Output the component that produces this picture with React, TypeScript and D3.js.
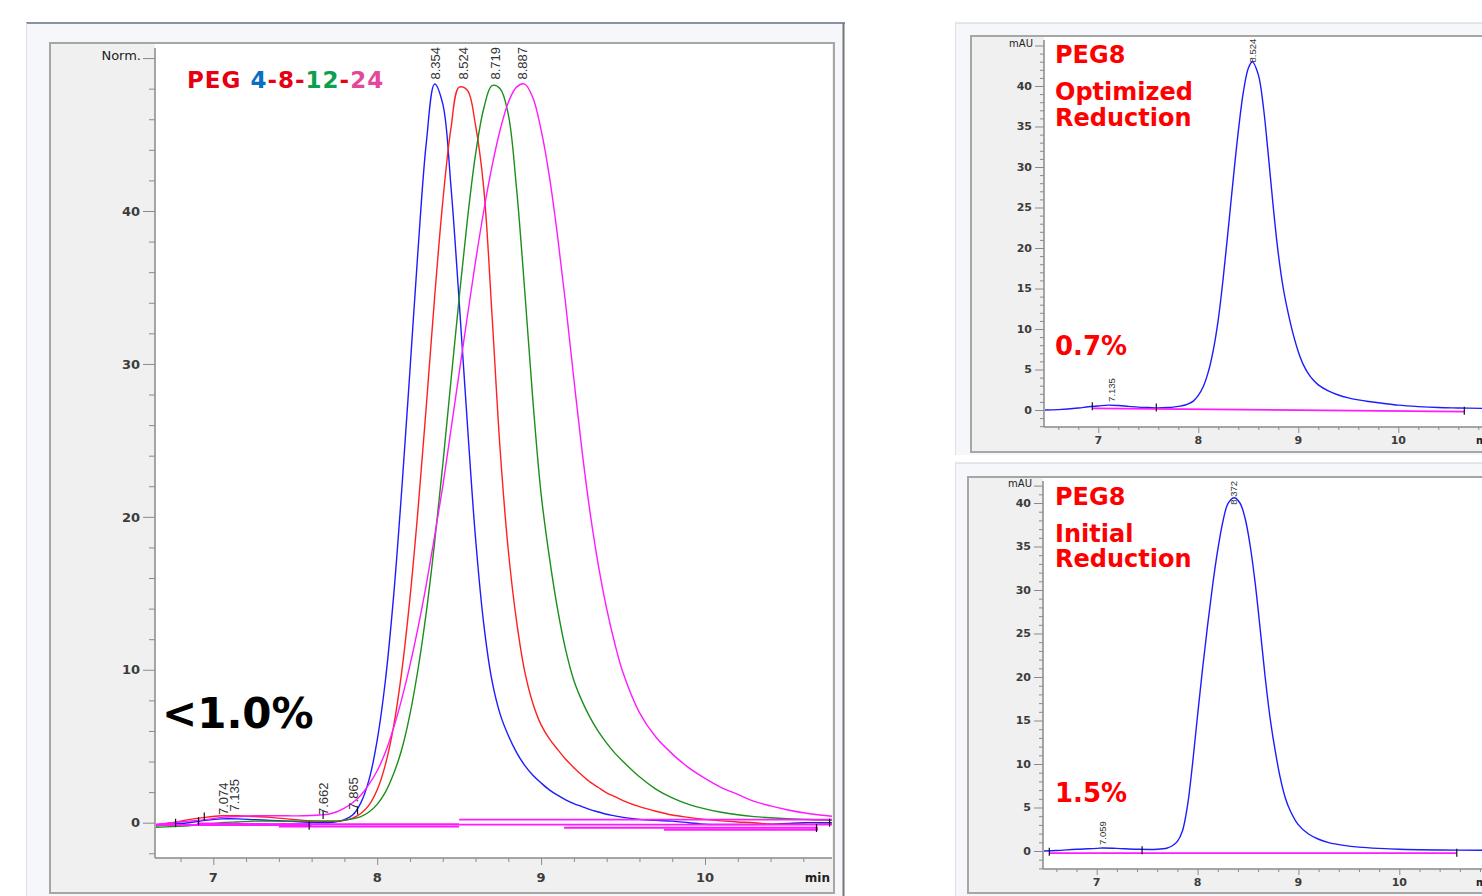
import React, { useEffect, useRef } from 'react';
import * as d3 from 'd3';

const WIDTH = 1482;
const HEIGHT = 896;
const BOLD_FONT = '"DejaVu Sans", Verdana, sans-serif';
const AXIS_FONT = '"DejaVu Sans", Tahoma, sans-serif';
const PEAK_FONT = '"Liberation Sans", Arial, sans-serif';

// ---- left panel: PEG 4 / 8 / 12 / 24 overlay, normalized ----
const overlayTime = [
  6.65, 6.75, 6.85, 6.95, 7.05, 7.15, 7.25, 7.35, 7.45, 7.55, 7.65,
  7.7, 7.75, 7.8, 7.85, 7.9, 7.95, 8.0, 8.05, 8.1, 8.15, 8.2, 8.25, 8.3, 8.35,
  8.4, 8.45, 8.5, 8.55, 8.6, 8.65, 8.7, 8.75, 8.8, 8.85, 8.9, 8.95, 9.0, 9.05,
  9.1, 9.15, 9.2, 9.25, 9.3, 9.35, 9.4, 9.45, 9.5, 9.6, 9.7, 9.8, 9.9, 10.0,
  10.1, 10.2, 10.3, 10.4, 10.5, 10.6, 10.7, 10.78,
];
const peg4Signal = [
  -0.2, -0.1, 0.0, 0.15, 0.25, 0.25, 0.2, 0.15, 0.1, 0.05, 0.0,
  0.0, 0.05, 0.2, 0.5, 1.3, 2.8, 5.4, 9.3, 14.8, 21.8, 29.6, 37.6, 44.5, 48.3,
  47.0, 41.6, 34.1, 26.1, 18.6, 13.0, 9.3, 7.1, 5.7, 4.6, 3.75, 3.1, 2.6, 2.15,
  1.8, 1.5, 1.25, 1.05, 0.85, 0.7, 0.55, 0.45, 0.35, 0.22, 0.15, 0.1, 0.0, -0.1,
  -0.12, -0.12, -0.12, -0.1, -0.05, 0.0, 0.0, 0.0,
];
const peg8Signal = [
  -0.15, 0.0, 0.2, 0.35, 0.45, 0.45, 0.4, 0.35, 0.25, 0.15, 0.1,
  0.1, 0.1, 0.15, 0.3, 0.6, 1.15, 2.15, 3.8, 6.3, 9.9, 14.7, 20.6, 27.3, 34.3,
  40.6, 45.4, 48.1, 47.9, 45.6, 41.5, 33.3, 24.4, 17.8, 13.2, 9.9, 7.8, 6.4, 5.5,
  4.8, 4.15, 3.6, 3.1, 2.65, 2.3, 1.95, 1.7, 1.45, 1.05, 0.75, 0.5, 0.35, 0.22,
  0.12, 0.05, 0.0, -0.1, -0.1, -0.1, -0.1, -0.1,
];
const peg12Signal = [
  -0.3, -0.25, -0.2, -0.1, 0.0, 0.05, 0.1, 0.1, 0.1, 0.1, 0.1,
  0.1, 0.1, 0.15, 0.25, 0.4, 0.7, 1.2, 2.0, 3.2, 4.8, 7.1, 10.1, 13.8, 18.3,
  23.4, 28.9, 34.3, 39.4, 43.7, 46.7, 48.2, 48.0, 46.3, 41.5, 34.8, 27.6, 21.5, 17.4,
  14.0, 11.3, 9.3, 7.95, 6.85, 5.95, 5.2, 4.55, 4.0, 3.0, 2.2, 1.62, 1.2, 0.9,
  0.68, 0.52, 0.4, 0.32, 0.26, 0.22, 0.18, 0.15,
];
const peg24Signal = [
  -0.1, 0.0, 0.1, 0.2, 0.35, 0.4, 0.45, 0.45, 0.45, 0.45, 0.5,
  0.55, 0.7, 0.95, 1.3, 1.8, 2.5, 3.4, 4.6, 6.2, 8.1, 10.3, 12.8, 15.6, 18.7,
  22.0, 25.7, 29.4, 33.1, 36.7, 40.0, 42.9, 45.3, 47.1, 48.1, 48.3, 47.4, 45.3, 42.3,
  38.4, 33.9, 29.0, 24.3, 20.2, 16.8, 14.0, 11.7, 9.8, 7.2, 5.6, 4.5, 3.6, 2.9,
  2.3, 1.85, 1.4, 1.1, 0.85, 0.65, 0.5, 0.42,
];
const overlayColors = ['#1c1cff', '#ff2020', '#1a8f1a', '#ff1aff'];

const overlayPeakTimes = [8.354, 8.524, 8.719, 8.887, 7.06, 7.13, 7.67, 7.855];
const overlayPeakLabels = ['8.354', '8.524', '8.719', '8.887', '7.074', '7.135', '7.662', '7.865'];
const overlayPeakAnchors = [48.6, 48.6, 48.6, 48.6, 0.5, 0.73, 0.5, 0.85];

// integration baselines and peak start/end marks
const overlayBaseStart = [6.65, 6.9, 7.4, 7.4, 8.5, 8.5, 9.14, 9.75];
const overlayBaseEnd = [7.6, 7.6, 8.5, 8.5, 10.78, 10.78, 10.69, 10.69];
const overlayBaseLevelStart = [-0.15, -0.05, -0.1, -0.25, 0.2, -0.12, -0.33, -0.46];
const overlayBaseLevelEnd = [-0.15, -0.1, -0.1, -0.25, 0.2, -0.12, -0.33, -0.46];
const overlayMarkTimes = [6.77, 6.91, 6.945, 7.585, 7.67, 7.88, 10.68, 10.76];
const overlayMarkLevels = [0.0, 0.1, 0.4, -0.2, 0.5, 0.8, -0.35, 0.0];

const overlayYTicks = [0, 10, 20, 30, 40];
const overlayXTicks = [7, 8, 9, 10];

// ---- right top: PEG8, optimized reduction ----
const optimizedTime = [
  6.46, 6.6, 6.8, 6.9, 7.0, 7.1, 7.2, 7.3, 7.4, 7.5,
  7.6, 7.7, 7.75, 7.8, 7.85, 7.9, 7.95, 8.0, 8.05, 8.1,
  8.15, 8.2, 8.25, 8.3, 8.35, 8.4, 8.45, 8.5, 8.54, 8.6,
  8.65, 8.7, 8.75, 8.8, 8.85, 8.9, 8.95, 9.0, 9.05, 9.1,
  9.15, 9.2, 9.3, 9.4, 9.5, 9.6, 9.7, 9.8, 10.0, 10.2,
  10.4, 10.6, 10.84,
];
const optimizedSignal = [
  0.0, 0.05, 0.25, 0.4, 0.5, 0.6, 0.55, 0.45, 0.35, 0.3,
  0.25, 0.3, 0.35, 0.45, 0.55, 0.75, 1.1, 1.8, 2.9, 4.7,
  7.4, 11.2, 16.4, 22.4, 28.6, 34.4, 39.2, 42.2, 43.0, 41.4,
  37.5, 31.5, 25.0, 19.3, 15.0, 11.9, 9.3, 7.2, 5.6, 4.5,
  3.7, 3.1, 2.35, 1.85, 1.5, 1.25, 1.05, 0.9, 0.6, 0.42,
  0.3, 0.25, 0.2,
];
const optimizedPeakTimes = [7.135, 8.54];
const optimizedPeakLabels = ['7.135', '8.524'];
const optimizedPeakAnchors = [1.0, 42.9];
const optimizedBaseStart = [6.94];
const optimizedBaseEnd = [10.66];
const optimizedBaseLevelStart = [0.2];
const optimizedBaseLevelEnd = [-0.2];
const optimizedMarkTimes = [6.94, 7.58, 10.66];
const optimizedMarkLevels = [0.45, 0.3, -0.1];

// ---- right bottom: PEG8, initial reduction ----
const initialTime = [
  6.46, 6.6, 6.8, 7.0, 7.06, 7.2, 7.4, 7.6, 7.7, 7.75,
  7.8, 7.85, 7.9, 7.95, 8.0, 8.05, 8.1, 8.15, 8.2, 8.25,
  8.3, 8.36, 8.42, 8.47, 8.52, 8.57, 8.62, 8.67, 8.72, 8.77,
  8.82, 8.87, 8.92, 9.0, 9.1, 9.2, 9.3, 9.45, 9.6, 9.8,
  10.0, 10.4, 10.84,
];
const initialSignal = [
  0.0, 0.05, 0.2, 0.3, 0.35, 0.3, 0.2, 0.2, 0.35, 0.6,
  1.1, 2.3, 5.2, 10.0, 15.6, 21.0, 26.0, 30.6, 34.6, 37.8,
  39.9, 40.6, 40.0, 38.3, 35.2, 30.9, 25.6, 20.0, 15.2, 11.5,
  8.4, 6.1, 4.6, 3.0, 1.95, 1.35, 0.97, 0.65, 0.45, 0.3,
  0.2, 0.12, 0.08,
];
const initialPeakTimes = [7.06, 8.36];
const initialPeakLabels = ['7.059', '8.372'];
const initialPeakAnchors = [0.7, 39.8];
const initialBaseStart = [6.53];
const initialBaseEnd = [10.57];
const initialBaseLevelStart = [-0.25];
const initialBaseLevelEnd = [-0.25];
const initialMarkTimes = [6.53, 7.45, 10.57];
const initialMarkLevels = [-0.1, 0.1, -0.2];

const singleYTicks = [0, 5, 10, 15, 20, 25, 30, 35, 40];
const singleXTicks = [7, 8, 9, 10];

const overlayLayout = {
  clipId: 'clip-overlay',
  outer: [26, 23, 819, 880], outerEdge: '#8b91a5', outerEdgeWidth: 2, rightEdge: 843.5,
  inner: [50, 43, 784, 850],
  plot: { left: 155, right: 832, top: 44, bottom: 858, axisTop: 48 },
  xRange: [213.3, 705], yRange: [822.7, 211],
  yMajor: overlayYTicks, yTop: 50, yTopLabel: 'Norm.',
  yMinor: d3.range(-2, 50, 2).filter(v => v % 10 !== 0),
  yMajorLen: 12, yMinorLen: 6,
  xMajor: overlayXTicks, xMinor: d3.range(6.8, 10.7, 0.2).filter(v => Math.abs(v - Math.round(v)) > 0.01),
  xMajorLen: 7, xMinorLen: 4,
  tickFont: 13, topFont: 13, xLabelDrop: 24, unitX: 830, unitAnchor: 'end',
};
const optimizedLayout = {
  clipId: 'clip-optimized',
  outer: [955, 23, 540, 432], outerEdge: '#cdd0d6', outerEdgeWidth: 1, rightEdge: null,
  inner: [971, 36, 530, 416],
  plot: { left: 1044, right: 1490, top: 37, bottom: 427, axisTop: 40 },
  xRange: [1098.3, 1398.3], yRange: [410, 86],
  yMajor: singleYTicks, yTop: 45, yTopLabel: 'mAU',
  yMinor: d3.range(-2, 45, 1).filter(v => v % 5 !== 0),
  yMajorLen: 9, yMinorLen: 4,
  xMajor: singleXTicks, xMinor: d3.range(6.6, 10.9, 0.2).filter(v => Math.abs(v - Math.round(v)) > 0.01),
  xMajorLen: 6, xMinorLen: 3,
  tickFont: 11, topFont: 10, xLabelDrop: 17, unitX: 1476, unitAnchor: 'start',
};
const initialLayout = {
  clipId: 'clip-initial',
  outer: [955, 463, 540, 440], outerEdge: '#cdd0d6', outerEdgeWidth: 1, rightEdge: null,
  inner: [968, 477, 530, 416],
  plot: { left: 1043, right: 1490, top: 478, bottom: 869, axisTop: 481 },
  xRange: [1096.7, 1399.3], yRange: [851, 503],
  yMajor: singleYTicks, yTop: 42, yTopLabel: 'mAU',
  yMinor: d3.range(-2, 42, 1).filter(v => v % 5 !== 0),
  yMajorLen: 9, yMinorLen: 4,
  xMajor: singleXTicks, xMinor: d3.range(6.6, 10.9, 0.2).filter(v => Math.abs(v - Math.round(v)) > 0.01),
  xMajorLen: 6, xMinorLen: 3,
  tickFont: 11, topFont: 10, xLabelDrop: 17, unitX: 1476, unitAnchor: 'start',
};

function drawFrame(svg: any, L: any) {
  const g = svg.append('g');
  const [ox, oy, ow, oh] = L.outer;
  g.append('rect').attr('x', ox).attr('y', oy).attr('width', ow).attr('height', oh).attr('fill', '#f5f7fa');
  g.append('line').attr('x1', ox).attr('x2', ox + ow).attr('y1', oy).attr('y2', oy)
    .attr('stroke', L.outerEdge).attr('stroke-width', L.outerEdgeWidth);
  g.append('line').attr('x1', ox + 0.5).attr('x2', ox + 0.5).attr('y1', oy).attr('y2', oy + oh)
    .attr('stroke', '#dde0e6').attr('stroke-width', 1);
  if (L.rightEdge) {
    g.append('line').attr('x1', L.rightEdge).attr('x2', L.rightEdge).attr('y1', oy).attr('y2', HEIGHT)
      .attr('stroke', '#767676').attr('stroke-width', 2);
  }
  const [ix, iy, iw, ih] = L.inner;
  g.append('rect').attr('x', ix).attr('y', iy).attr('width', iw).attr('height', ih)
    .attr('fill', '#f0f0f0').attr('stroke', '#a6a6a6').attr('stroke-width', 2);
  const P = L.plot;
  g.append('rect').attr('x', P.left).attr('y', P.top).attr('width', P.right - P.left).attr('height', P.bottom - P.top)
    .attr('fill', '#ffffff');

  const x = d3.scaleLinear().domain([7, 10]).range(L.xRange);
  const y = d3.scaleLinear().domain([0, 40]).range(L.yRange);

  // y axis ticks
  g.append('g').attr('transform', `translate(${P.left},0)`)
    .call(d3.axisLeft(y).tickValues(L.yMinor).tickSize(L.yMinorLen).tickFormat(() => ''))
    .call((a: any) => a.select('.domain').remove())
    .call((a: any) => a.selectAll('line').attr('stroke', '#8a8a8a'));
  g.append('g').attr('transform', `translate(${P.left},0)`)
    .call(d3.axisLeft(y).tickValues([...L.yMajor, L.yTop]).tickSize(L.yMajorLen).tickFormat(() => ''))
    .call((a: any) => a.select('.domain').remove())
    .call((a: any) => a.selectAll('line').attr('stroke', '#8a8a8a'));
  g.append('g').selectAll('text').data(L.yMajor).join('text')
    .attr('x', P.left - L.yMajorLen - 3).attr('y', (d: number) => y(d)).attr('dy', '0.36em')
    .attr('text-anchor', 'end').attr('font-family', AXIS_FONT).attr('font-size', L.tickFont)
    .attr('font-weight', 'bold').attr('fill', '#3c3c3c').text((d: number) => String(d));
  g.append('text').attr('x', P.left - L.yMajorLen - 2).attr('y', y(L.yTop) - 2).attr('dy', '0.3em')
    .attr('text-anchor', 'end').attr('font-family', AXIS_FONT).attr('font-size', L.topFont)
    .attr('fill', '#222').text(L.yTopLabel);

  // x axis ticks
  g.append('g').attr('transform', `translate(0,${P.bottom})`)
    .call(d3.axisBottom(x).tickValues(L.xMinor).tickSize(L.xMinorLen).tickFormat(() => ''))
    .call((a: any) => a.select('.domain').remove())
    .call((a: any) => a.selectAll('line').attr('stroke', '#8a8a8a'));
  g.append('g').attr('transform', `translate(0,${P.bottom})`)
    .call(d3.axisBottom(x).tickValues(L.xMajor).tickSize(L.xMajorLen).tickFormat(() => ''))
    .call((a: any) => a.select('.domain').remove())
    .call((a: any) => a.selectAll('line').attr('stroke', '#8a8a8a'));
  g.append('g').selectAll('text').data(L.xMajor).join('text')
    .attr('x', (d: number) => x(d)).attr('y', P.bottom + L.xLabelDrop)
    .attr('text-anchor', 'middle').attr('font-family', AXIS_FONT).attr('font-size', L.tickFont)
    .attr('font-weight', 'bold').attr('fill', '#3c3c3c').text((d: number) => String(d));
  g.append('text').attr('x', L.unitX).attr('y', P.bottom + L.xLabelDrop)
    .attr('text-anchor', L.unitAnchor).attr('font-family', AXIS_FONT).attr('font-size', L.tickFont - 1)
    .attr('font-weight', 'bold').attr('fill', '#222').text('min');

  // axis lines
  g.append('line').attr('x1', P.left).attr('x2', P.left).attr('y1', P.axisTop).attr('y2', P.bottom)
    .attr('stroke', '#8a8a8a').attr('stroke-width', 1.5);
  g.append('line').attr('x1', P.left).attr('x2', P.right).attr('y1', P.bottom).attr('y2', P.bottom)
    .attr('stroke', '#8a8a8a').attr('stroke-width', 1.5);

  svg.append('defs').append('clipPath').attr('id', L.clipId).append('rect')
    .attr('x', P.left + 1).attr('y', P.top).attr('width', P.right - P.left - 1).attr('height', P.bottom - P.top - 1);
  const plot = svg.append('g').attr('clip-path', `url(#${L.clipId})`);
  return { x, y, plot };
}

function drawTrace(plot: any, x: any, y: any, time: number[], signal: number[], color: string) {
  const line = d3.line<number>()
    .x((d, i) => x(time[i]))
    .y(d => y(d))
    .curve(d3.curveCatmullRom.alpha(0.5));
  plot.append('path').datum(signal).attr('d', line)
    .attr('fill', 'none').attr('stroke', color).attr('stroke-width', 1.4).attr('stroke-linejoin', 'round');
}

function drawBaselines(plot: any, x: any, y: any, start: number[], end: number[], l0: number[], l1: number[]) {
  plot.append('g').selectAll('line').data(start).join('line')
    .attr('x1', (d: number) => x(d)).attr('x2', (d: number, i: number) => x(end[i]))
    .attr('y1', (d: number, i: number) => y(l0[i])).attr('y2', (d: number, i: number) => y(l1[i]))
    .attr('stroke', '#ff1aff').attr('stroke-width', 1.8);
}

function drawMarks(plot: any, x: any, y: any, times: number[], levels: number[]) {
  plot.append('g').selectAll('line').data(times).join('line')
    .attr('x1', (d: number) => x(d)).attr('x2', (d: number) => x(d))
    .attr('y1', (d: number, i: number) => y(levels[i]) - 4).attr('y2', (d: number, i: number) => y(levels[i]) + 4)
    .attr('stroke', '#111').attr('stroke-width', 1.2);
}

function drawPeakLabels(plot: any, x: any, y: any, times: number[], texts: string[], anchors: number[], size: number) {
  plot.append('g').selectAll('text').data(times).join('text')
    .attr('transform', (d: number, i: number) => `translate(${x(d)},${y(anchors[i])}) rotate(-90)`)
    .attr('dy', '0.36em').attr('font-family', PEAK_FONT).attr('font-size', size).attr('fill', '#333')
    .text((d: number, i: number) => texts[i]);
}

function drawNote(svg: any, x: number, y: number, text: string, size: number, color: string) {
  svg.append('text').attr('x', x).attr('y', y).attr('font-family', BOLD_FONT).attr('font-weight', 'bold')
    .attr('font-size', size).attr('fill', color).text(text);
}

export default function App() {
  const svgRef = useRef<SVGSVGElement | null>(null);

  useEffect(() => {
    if (!svgRef.current) return;
    const svg = d3.select(svgRef.current);
    svg.selectAll('*').remove();

    // left: overlay of the four PEG lengths
    const left = drawFrame(svg, overlayLayout);
    [peg4Signal, peg8Signal, peg12Signal, peg24Signal].forEach((s, i) =>
      drawTrace(left.plot, left.x, left.y, overlayTime, s, overlayColors[i]));
    drawBaselines(left.plot, left.x, left.y, overlayBaseStart, overlayBaseEnd, overlayBaseLevelStart, overlayBaseLevelEnd);
    drawMarks(left.plot, left.x, left.y, overlayMarkTimes, overlayMarkLevels);
    drawPeakLabels(left.plot, left.x, left.y, overlayPeakTimes, overlayPeakLabels, overlayPeakAnchors, 13);

    const title = svg.append('text').attr('x', 187).attr('y', 88).attr('font-family', BOLD_FONT)
      .attr('font-weight', 'bold').attr('font-size', 23).attr('letter-spacing', 1);
    [['PEG ', '#e60012'], ['4', '#0a6fc2'], ['-8-', '#e60012'], ['12', '#0aa04f'], ['-', '#e60012'], ['24', '#e3489a']]
      .forEach(([t, c]) => title.append('tspan').attr('fill', c).text(t));
    drawNote(svg, 162, 728, '<1.0%', 42, '#000');

    // right top: optimized reduction
    const top = drawFrame(svg, optimizedLayout);
    drawTrace(top.plot, top.x, top.y, optimizedTime, optimizedSignal, '#1c1cff');
    drawBaselines(top.plot, top.x, top.y, optimizedBaseStart, optimizedBaseEnd, optimizedBaseLevelStart, optimizedBaseLevelEnd);
    drawMarks(top.plot, top.x, top.y, optimizedMarkTimes, optimizedMarkLevels);
    drawPeakLabels(top.plot, top.x, top.y, optimizedPeakTimes, optimizedPeakLabels, optimizedPeakAnchors, 9.5);
    drawNote(svg, 1055, 63, 'PEG8', 24, '#ff0000');
    drawNote(svg, 1055, 100, 'Optimized', 24, '#ff0000');
    drawNote(svg, 1055, 126, 'Reduction', 24, '#ff0000');
    drawNote(svg, 1055, 355, '0.7%', 26, '#ff0000');

    // right bottom: initial reduction
    const bottom = drawFrame(svg, initialLayout);
    drawTrace(bottom.plot, bottom.x, bottom.y, initialTime, initialSignal, '#1c1cff');
    drawBaselines(bottom.plot, bottom.x, bottom.y, initialBaseStart, initialBaseEnd, initialBaseLevelStart, initialBaseLevelEnd);
    drawMarks(bottom.plot, bottom.x, bottom.y, initialMarkTimes, initialMarkLevels);
    drawPeakLabels(bottom.plot, bottom.x, bottom.y, initialPeakTimes, initialPeakLabels, initialPeakAnchors, 9.5);
    drawNote(svg, 1055, 505, 'PEG8', 24, '#ff0000');
    drawNote(svg, 1055, 542, 'Initial', 24, '#ff0000');
    drawNote(svg, 1055, 567, 'Reduction', 24, '#ff0000');
    drawNote(svg, 1055, 802, '1.5%', 26, '#ff0000');
  }, []);

  return (
    <svg
      ref={svgRef}
      width={WIDTH}
      height={HEIGHT}
      style={{ position: 'absolute', left: 0, top: 0, background: '#ffffff' }}
    />
  );
}
